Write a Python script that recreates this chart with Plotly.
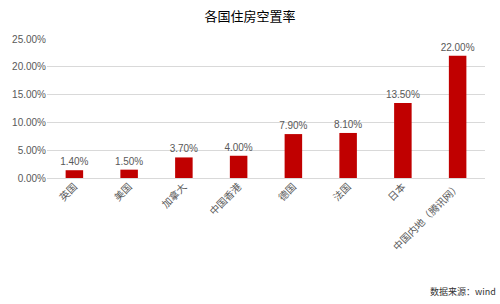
import plotly.graph_objects as go

categories = ["英国", "美国", "加拿大", "中国香港", "德国", "法国", "日本", "中国内地（腾讯网）"]
values = [1.40, 1.50, 3.70, 4.00, 7.90, 8.10, 13.50, 22.00]
tick_vals = [0, 5, 10, 15, 20, 25]
tick_text = ["0.00%", "5.00%", "10.00%", "15.00%", "20.00%", "25.00%"]

font_family = "Liberation Sans, Noto Sans CJK SC, sans-serif"

fig = go.Figure(go.Bar(
    x=categories, y=values,
    marker=dict(color="#c00000", line=dict(width=0)),
    text=[f"{v:.2f}%" for v in values],
    textposition="outside",
    constraintext="none",
    textfont=dict(size=10, color="#595959", family=font_family),
    cliponaxis=False,
))

fig.update_layout(
    width=500, height=304,
    margin=dict(l=43, r=15, t=39, b=126),
    paper_bgcolor="white", plot_bgcolor="white",
    bargap=0.68,
    showlegend=False,
    uniformtext=dict(mode=False),
    title=dict(text="各国住房空置率", x=0.5, xanchor="center", y=0.945, yanchor="middle",
               font=dict(size=13, color="#000000", family="Noto Sans CJK SC, sans-serif")),
    xaxis=dict(tickangle=-45, showgrid=False, showline=False, ticks="",
               tickfont=dict(size=10, color="#595959", family="Noto Sans CJK SC, sans-serif")),
    yaxis=dict(range=[0, 25], tickvals=tick_vals, ticktext=tick_text,
               showgrid=True, gridcolor="#d9d9d9", gridwidth=1,
               zeroline=True, zerolinecolor="#d9d9d9", zerolinewidth=1,
               showline=False, ticks="",
               tickfont=dict(size=10, color="#595959", family=font_family)),
    annotations=[dict(text="数据来源：wind", xref="paper", xanchor="right",
                      x=(498 - 43) / (485 - 43),
                      y=-(291 - 178) / (178 - 39), yref="paper", yanchor="middle",
                      showarrow=False,
                      font=dict(size=9, color="#333333", family="Noto Sans CJK SC, sans-serif"))],
)

fig.write_html("out.html")
